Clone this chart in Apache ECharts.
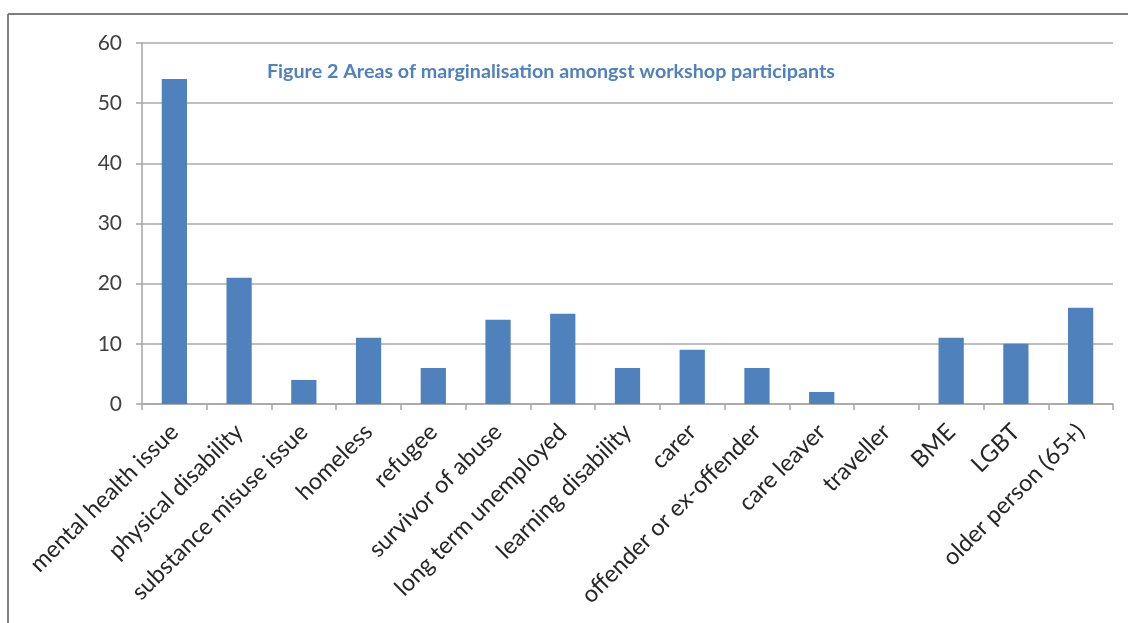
<!DOCTYPE html>
<html><head><meta charset="utf-8">
<script src="https://cdn.jsdelivr.net/npm/echarts@6/dist/echarts.min.js"></script>
<style>html,body{margin:0;padding:0;background:#fff}#c{width:1128px;height:623px}</style>
</head><body><div id="c"></div>
<script>
const categories = ["mental health issue","physical disability","substance misuse issue","homeless","refugee","survivor of abuse","long term unemployed","learning disability","carer","offender or ex-offender","care leaver","traveller","BME","LGBT","older person (65+)"];
const values = [54, 21, 4, 11, 6, 14, 15, 6, 9, 6, 2, 0, 11, 10, 16];
const yTicks = {min: 0, max: 60, interval: 10};
const titleText = "Figure 2 Areas of marginalisation amongst workshop participants";

const chart = echarts.init(document.getElementById('c'), null, {renderer: 'canvas'});
chart.setOption({
  animation: false,
  backgroundColor: '#fff',
  title: {
    text: titleText, left: 262, top: 57,
    textStyle: {color: '#4F81BD', fontFamily: 'Lato', fontWeight: 'bold', fontSize: 19.7}
  },
  graphic: [
    {type: 'line', shape: {x1: 8, y1: 14, x2: 1128, y2: 14}, style: {stroke: '#7f7f7f', lineWidth: 2}},
    {type: 'line', shape: {x1: 8, y1: 14, x2: 8, y2: 623}, style: {stroke: '#7f7f7f', lineWidth: 2}}
  ],
  grid: {left: 142, right: 15, top: 43, bottom: 219, containLabel: false},
  xAxis: {
    type: 'category', data: categories,
    axisLine: {lineStyle: {color: '#a6a6a6', width: 1.5}},
    axisTick: {show: true, alignWithLabel: false, length: 6, lineStyle: {color: '#a6a6a6', width: 1.5}},
    axisLabel: {rotate: 45, interval: 0, color: '#262626', fontFamily: 'Lato', fontSize: 23.5, margin: 24}
  },
  yAxis: {
    type: 'value', min: yTicks.min, max: yTicks.max, interval: yTicks.interval,
    axisLine: {show: true, lineStyle: {color: '#a6a6a6', width: 1.5}},
    axisTick: {show: true, length: 6, lineStyle: {color: '#a6a6a6', width: 1.5}},
    axisLabel: {color: '#404040', fontFamily: 'Lato', fontSize: 21, margin: 20},
    splitLine: {lineStyle: {color: '#bfbfbf', width: 2}}
  },
  series: [{
    type: 'bar', data: values, barWidth: '39%',
    itemStyle: {color: '#4F81BD'}
  }]
});
</script></body></html>
